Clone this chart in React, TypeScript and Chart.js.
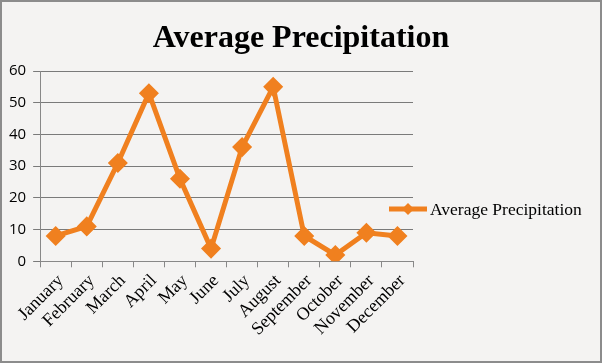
import React, { useEffect, useRef } from "react";
import { Chart, registerables } from "chart.js";

Chart.register(...registerables);

const months = ["January", "February", "March", "April", "May", "June", "July", "August", "September", "October", "November", "December"];
const precipitation = [8, 11, 31, 53, 26, 4, 36, 55, 8, 2, 9, 8];
const yTicks = [0, 10, 20, 30, 40, 50, 60];
const seriesName = "Average Precipitation";
const chartTitle = "Average Precipitation";

const ORANGE = "#F0801F";

const decorPlugin = {
  id: "decor",
  afterDraw(chart: any) {
    const { ctx, chartArea, width } = chart;
    ctx.save();
    // title
    ctx.fillStyle = "#000";
    ctx.font = "bold 32px 'Liberation Serif'";
    ctx.textAlign = "center";
    ctx.textBaseline = "alphabetic";
    ctx.fillText(chartTitle, width / 2, 45);
    // legend
    const x0 = chartArea.right - 24;
    const y = 207;
    ctx.strokeStyle = ORANGE;
    ctx.lineWidth = 5;
    ctx.beginPath();
    ctx.moveTo(x0, y);
    ctx.lineTo(x0 + 38, y);
    ctx.stroke();
    const cx = x0 + 19;
    ctx.fillStyle = ORANGE;
    ctx.beginPath();
    ctx.moveTo(cx, y - 6);
    ctx.lineTo(cx + 6, y);
    ctx.lineTo(cx, y + 6);
    ctx.lineTo(cx - 6, y);
    ctx.closePath();
    ctx.fill();
    ctx.fillStyle = "#000";
    ctx.font = "17.5px 'Liberation Serif'";
    ctx.textAlign = "left";
    ctx.textBaseline = "middle";
    ctx.fillText(seriesName, x0 + 41, y + 1);
    ctx.restore();
  },
};

export default function App() {
  const ref = useRef<HTMLCanvasElement | null>(null);
  useEffect(() => {
    document.body.style.margin = "0";
    if (!ref.current) return;
    const chart = new Chart(ref.current, {
      type: "line",
      data: {
        labels: months,
        datasets: [
          {
            label: seriesName,
            data: precipitation,
            borderColor: ORANGE,
            backgroundColor: ORANGE,
            borderWidth: 5,
            pointStyle: "rectRot",
            pointRadius: 6.5,
            pointBackgroundColor: ORANGE,
            pointBorderColor: ORANGE,
            tension: 0,
          },
        ],
      },
      options: {
        animation: false,
        responsive: false,
        layout: { padding: { left: 0, right: 187, bottom: 18, top: 69 } },
        plugins: {
          legend: { display: false },
          tooltip: { enabled: false },
          title: { display: false },
        },
        scales: {
          x: {
            offset: true,
            grid: { display: true, drawOnChartArea: false, drawTicks: true, tickLength: 6, color: "#888", offset: true },
            border: { color: "#888", width: 1 },
            ticks: {
              color: "#000",
              maxRotation: 45,
              minRotation: 45,
              autoSkip: false,
              padding: 3,
              labelOffset: 5,
              font: { family: "'Liberation Serif'", size: 18 },
            },
          },
          y: {
            min: 0,
            max: 60,
            afterBuildTicks: (axis: any) => {
              axis.ticks = yTicks.map((v) => ({ value: v }));
            },
            grid: { color: "#7a7a7a", tickLength: 7, drawTicks: true },
            border: { color: "#888", width: 1 },
            ticks: {
              color: "#000",
              padding: 7,
              font: { family: "'Open Sans'", size: 15 },
            },
          },
        },
      },
      plugins: [decorPlugin],
    });
    return () => chart.destroy();
  }, []);
  return (
    <div style={{ position: "absolute", left: 0, top: 0, width: 602, height: 363, background: "#F4F3F2", boxSizing: "border-box", border: "2px solid #8c8c8c" }}>
      <canvas ref={ref} width={598} height={359} style={{ display: "block" }} />
    </div>
  );
}
